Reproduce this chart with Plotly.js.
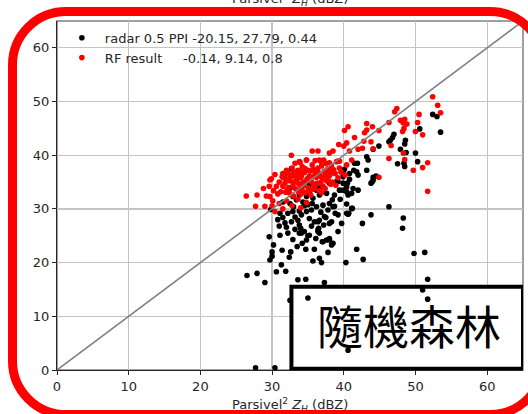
<!DOCTYPE html>
<html>
<head>
<meta charset="utf-8">
<script src="https://cdn.plot.ly/plotly-3.0.1.min.js"></script>
<style>
html,body{margin:0;padding:0;background:#fff;overflow:hidden;}
#wrap{position:relative;width:528px;height:414px;overflow:hidden;}
#chart{position:absolute;left:0;top:0;width:528px;height:414px;}
#frame{position:absolute;left:8px;top:7px;width:540px;height:412px;border:9px solid #ff0000;border-radius:58px;box-sizing:border-box;pointer-events:none;}
</style>
</head>
<body>
<div id="wrap"><div id="chart"></div><div id="frame"></div></div>
<script>
// radar 0.5 PPI (black)
const radarX = [52.4,53.0,53.5,50.6,47.0,46.8,46.5,46.3,48.6,48.5,44.9,43.2,47.9,48.7,50.0,50.3,47.5,48.4,48.5,41.9,41.4,42.0,40.1,39.9,40.8,40.5,44.1,43.8,42.0,40.4,40.6,46.3,43.8,48.3,48.2,42.6,41.1,40.6,38.5,37.3,36.4,38.0,32.7,29.8,38.7,38.4,40.4,40.7,41.2,44.0,39.9,41.1,
  41.5,41.8,40.8,39.9,39.2,43.2,44.1,44.1,44.5,43.4,
  26.5,27.9,29.0,27.7,30.4,32.5,33.6,34.7,37.3,35.0,40.6,30.6,31.9,31.3,29.7,30.0,30.0,30.2,29.6,31.1,31.4,32.4,32.6,32.9,34.2,34.7,35.9,33.8,35.0,36.4,36.5,37.0,38.0,38.3,39.2,35.7,36.6,36.9,37.8,40.3,41.8,42.7,49.8,51.3,51.7,51.0,51.7,
  31.1,31.8,32.2,32.9,33.2,32.7,33.6,34.1,34.8,35.5,36.2,37.1,38.0,35.2,35.9,36.6,37.5,38.3,39.2,33.8,34.5,35.2,33.2,34.1,36.4,36.6,37.6,38.0,38.5,37.1,39.7,40.4,31.5,32.5,33.4,34.3,34.8,35.7,36.6,37.6,38.7,39.4,40.4,41.3,36.2,37.1,38.0,39.0,39.9,35.2,33.8,32.9,33.8,35.2,36.6,32.5,
  30.8,31.5,32.0,33.0,34.5,35.6,36.8,37.8,38.8,34.0,35.5,37.2,36.1,34.8,33.5,32.2,31.0,39.5,35.0,33.8];
const radarY = [47.6,47.2,44.3,44.9,43.9,43.3,42.8,42.5,42.8,42.1,41.7,39.7,41.1,40.5,40.4,38.8,38.4,38.5,37.9,38.5,37.2,36.3,37.4,36.7,35.5,34.8,35.4,34.8,33.5,33.2,32.6,30.4,28.9,28.3,26.4,27.3,30.1,29.0,30.4,28.6,27.6,27.3,37.5,29.9,30.5,31.7,30.9,29.2,30.1,35.1,33.5,32.9,
  38.5,36.9,36.6,36.0,35.1,37.2,41.1,35.9,36.1,39.1,
  17.6,18.0,16.3,0.4,0.4,13.0,16.8,16.9,16.3,13.4,3.7,18.3,18.4,19.6,20.5,21.2,22.0,23.3,24.8,25.1,22.3,21.0,22.0,24.3,23.6,22.5,22.5,25.5,25.0,25.8,26.4,23.9,24.2,23.3,25.8,20.3,20.8,20.0,21.9,20.0,22.5,20.6,21.7,21.9,16.9,14.9,13.2,
  29.2,27.4,29.2,29.5,28.5,27.6,27.9,28.9,29.5,29.8,30.4,30.7,31.0,28.2,27.6,27.9,28.4,27.6,28.9,27.0,25.8,25.1,26.2,25.5,26.1,25.5,24.2,24.5,23.6,23.9,27.3,29.2,31.3,31.0,31.7,31.3,32.3,32.0,32.6,32.9,32.6,33.5,34.1,33.8,33.5,34.1,34.8,35.1,34.8,32.9,32.6,32.3,33.5,34.5,33.9,33.9,
  28.0,28.4,26.6,30.4,30.6,31.0,29.4,29.8,29.2,26.4,26.8,27.0,24.5,24.2,23.0,25.5,26.8,31.8,30.8,29.6];

// RF result (red)
const rfX = [52.4,53.1,53.5,50.5,47.4,47.1,46.3,47.9,48.5,48.3,50.3,48.8,43.2,44.0,43.2,42.9,44.9,40.6,40.1,41.5,43.8,42.8,40.4,40.0,39.3,42.0,42.6,44.1,40.8,48.4,48.2,50.0,51.0,46.6,48.3,48.5,46.3,51.7,51.0,49.7,51.7,44.9,38.0,38.5,35.6,36.4,32.7,36.6,37.2,36.0,34.8,33.9,39.2,38.0,37.8,33.2,31.5,31.9,29.7,29.9,26.4,27.9,27.7,29.0,29.7,30.1,30.4,
  33.8,34.8,36.8,37.5,39.0,39.4,38.3,40.4,41.1,32.0,32.9,33.6,35.0,35.9,36.4,37.6,38.3,39.4,
  31.0,31.5,32.0,32.3,32.6,33.0,33.2,33.5,33.8,34.0,34.2,34.5,34.7,35.0,35.2,35.5,35.7,36.0,36.2,36.5,36.8,37.0,37.3,37.6,38.0,38.4,38.8,39.2,32.4,33.0,34.6,35.4,36.6,31.2,30.6,30.8,32.8,34.2,35.6,36.9,33.6,34.8,32.0,31.0,35.9,37.4,38.9,39.6,40.2,33.4,34.4,35.8,36.4,37.9,33.9,32.2,31.6,30.4,29.6,28.8,29.2,30.2,30.0,31.5,32.8,34.0,
  31.4,31.8,32.1,32.5,32.9,33.3,33.7,34.1,34.3,34.9,35.3,35.6,36.0,36.3,36.7,37.1,37.4,37.8,38.2,38.6,32.7,33.5,34.0,35.1,35.8,36.9,37.7,34.6,33.1,31.9];
const rfY = [50.9,49.3,47.9,47.6,48.7,48.1,46.1,46.5,46.7,46.0,46.1,45.8,45.9,45.3,44.7,44.2,44.6,45.3,44.6,43.3,42.5,42.6,42.3,41.7,42.0,41.1,41.3,41.2,40.8,45.0,44.4,44.4,43.8,41.8,40.4,39.2,39.4,38.6,37.7,37.2,33.3,35.9,40.4,40.8,40.8,40.8,40.0,39.1,39.1,39.0,39.1,38.7,38.9,38.6,37.5,38.5,36.6,36.4,35.4,35.6,32.4,32.6,30.5,30.5,32.3,31.5,29.5,
  38.8,39.1,38.9,38.5,38.8,38.9,38.0,38.2,39.1,37.2,36.6,37.2,37.2,37.2,36.9,37.2,36.7,37.6,
  35.0,34.2,35.5,34.0,36.0,35.0,33.8,36.3,34.6,35.8,33.5,36.8,35.2,34.0,36.1,35.0,37.4,34.4,35.9,36.5,34.9,35.6,37.0,35.2,36.2,35.0,36.6,35.8,33.0,32.4,33.0,32.6,33.4,33.2,34.2,32.8,37.6,37.9,38.2,38.0,31.8,31.2,31.5,31.0,33.8,33.8,34.4,36.9,36.3,35.4,34.4,36.0,37.6,37.4,37.0,36.7,35.8,36.4,34.2,33.8,32.4,33.4,30.6,30.0,30.6,30.2,
  36.0,34.8,33.6,35.2,34.3,36.8,33.2,36.2,34.9,35.6,37.0,33.6,36.8,34.8,36.2,34.2,36.3,35.6,34.6,37.3,32.6,34.9,32.8,33.5,34.6,33.0,36.8,37.5,36.2,33.1];

const oneToOneX = [0, 65];
const oneToOneY = [0, 65];

const legendRadar = 'radar 0.5 PPI -20.15, 27.79, 0.44';
const legendRF = 'RF result\u00a0\u00a0\u00a0\u00a0\u00a0-0.14, 9.14, 0.8';
const axisLabel = 'Parsivel<sup>2</sup> <i>Z</i><sub><i>H</i></sub> (dBZ)';
const boxLabel = '隨機森林';
const tickVals = [0,10,20,30,40,50,60];

const traces = [
  {x: radarX, y: radarY, type: 'scatter', mode: 'markers', name: legendRadar,
   marker: {color: '#000000', size: 5.6}},
  {x: rfX, y: rfY, type: 'scatter', mode: 'markers', name: legendRF,
   marker: {color: '#ff0000', size: 5.6}},
  {x: oneToOneX, y: oneToOneY, type: 'scatter', mode: 'lines', showlegend: false,
   line: {color: '#808080', width: 1.6}, hoverinfo: 'skip'}
];

const axisCommon = {
  range: [0, 65], tickvals: tickVals, ticktext: tickVals.map(String),
  showgrid: true, gridcolor: '#c4c4c4', gridwidth: 1.2, zeroline: false,
  showline: true, linecolor: '#262626', linewidth: 1,
  ticks: 'outside', ticklen: 4, tickcolor: '#262626', tickwidth: 1,
  tickfont: {family: 'DejaVu Sans', size: 13, color: '#262626'}
};

const layout = {
  width: 528, height: 414,
  margin: {l: 57, r: 5, t: 21, b: 44, pad: 0},
  paper_bgcolor: '#ffffff', plot_bgcolor: '#ffffff',
  font: {family: 'DejaVu Sans', size: 13, color: '#262626'},
  xaxis: Object.assign({}, axisCommon),
  yaxis: Object.assign({}, axisCommon),
  showlegend: true,
  legend: {x: 0.004, y: 0.995, xanchor: 'left', yanchor: 'top', itemwidth: 36,
           bgcolor: 'rgba(0,0,0,0)', borderwidth: 0,
           font: {family: 'DejaVu Sans', size: 13, color: '#262626'}},
  shapes: [
    {type: 'rect', xref: 'paper', yref: 'paper', x0: 0, x1: 1, y0: 0, y1: 1,
     line: {color: '#808080', width: 1.5}, layer: 'below'},
    {type: 'rect', xref: 'x', yref: 'y', x0: 32.7, x1: 65, y0: 0.25, y1: 15.5,
     fillcolor: '#ffffff', line: {color: '#000000', width: 4}, layer: 'between'}
  ],
  annotations: [
    {text: boxLabel, xref: 'x', yref: 'y', x: 49.1, y: 8.6, showarrow: false,
     xanchor: 'center', yanchor: 'middle',
     font: {family: 'Noto Sans CJK TC', size: 46, color: '#000000'}},
    {text: axisLabel, xref: 'paper', yref: 'paper', x: 0.5, y: (370 - 405) / 349,
     showarrow: false, xanchor: 'center', yanchor: 'middle',
     font: {family: 'DejaVu Sans', size: 13, color: '#262626'}},
    {text: axisLabel, xref: 'paper', yref: 'paper', x: 0.5, y: (370 + 1) / 349,
     showarrow: false, xanchor: 'center', yanchor: 'middle',
     font: {family: 'DejaVu Sans', size: 13, color: '#262626'}}
  ]
};

Plotly.newPlot('chart', traces, layout, {staticPlot: true, displayModeBar: false});
</script>
</body>
</html>
